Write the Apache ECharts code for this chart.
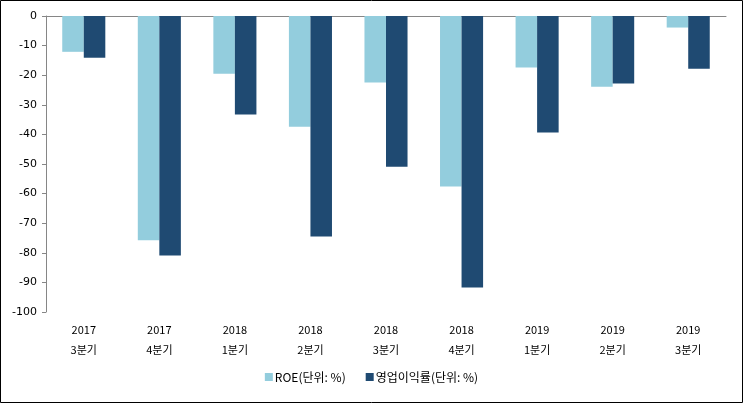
<!DOCTYPE html>
<html><head><meta charset="utf-8">
<script src="https://cdn.jsdelivr.net/npm/echarts@6/dist/echarts.min.js"></script>
<style>html,body{margin:0;padding:0;background:#fff}#c{width:743px;height:403px}</style>
</head><body><div id="c"></div>
<script>
const years = ['2017','2017','2018','2018','2018','2018','2019','2019','2019'];
const quarters = ['3분기','4분기','1분기','2분기','3분기','4분기','1분기','2분기','3분기'];
const roe = [-12.1, -75.8, -19.5, -37.4, -22.5, -57.6, -17.4, -23.9, -3.9];
const opMargin = [-14.1, -80.9, -33.3, -74.5, -50.9, -91.7, -39.4, -22.8, -17.8];
const seriesNames = ['ROE(단위: %)', '영업이익률(단위: %)'];
const categories = years.map((y, i) => y + '\n' + quarters[i]);

const chart = echarts.init(document.getElementById('c'));
const font = '"Noto Sans CJK KR", "DejaVu Sans", sans-serif';
chart.setOption({
  animation: false,
  textStyle: { fontFamily: font },
  graphic: [{ type: 'rect', shape: { x: 0.5, y: 0.5, width: 742, height: 402 }, style: { fill: 'none', stroke: '#000', lineWidth: 1 } }],
  grid: { left: 46, top: 16, right: 17, bottom: 91 },
  legend: {
    bottom: 15, left: 'center', itemWidth: 8, itemHeight: 8, itemGap: 20,
    icon: 'rect', textStyle: { fontSize: 12, color: '#000', fontFamily: font, padding: [0, 0, 0, -3] },
    data: seriesNames
  },
  xAxis: [
    { type: 'category', position: 'top', data: categories,
      axisLine: { onZero: false, lineStyle: { color: '#868686', width: 1 } },
      axisTick: { inside: true, length: 5, lineStyle: { color: '#868686' } },
      axisLabel: { show: false } },
    { type: 'category', position: 'bottom', data: categories,
      axisLine: { show: false }, axisTick: { show: false },
      axisLabel: { color: '#000', fontSize: 11, lineHeight: 20, margin: 8, interval: 0, fontFamily: font } }
  ],
  yAxis: {
    type: 'value', min: -100, max: 0, interval: 10,
    axisLine: { show: true, lineStyle: { color: '#868686' } },
    axisTick: { show: true, length: 4, lineStyle: { color: '#868686' } },
    splitLine: { show: false },
    axisLabel: { color: '#000', fontSize: 11, margin: 9, fontFamily: '"DejaVu Sans", sans-serif' }
  },
  series: [
    { name: seriesNames[0], type: 'bar', data: roe, xAxisIndex: 0, barGap: '0%', barCategoryGap: '43%', itemStyle: { color: '#93CDDD' } },
    { name: seriesNames[1], type: 'bar', data: opMargin, xAxisIndex: 0, barGap: '0%', barCategoryGap: '43%', itemStyle: { color: '#1F4A72' } }
  ]
});
</script></body></html>
